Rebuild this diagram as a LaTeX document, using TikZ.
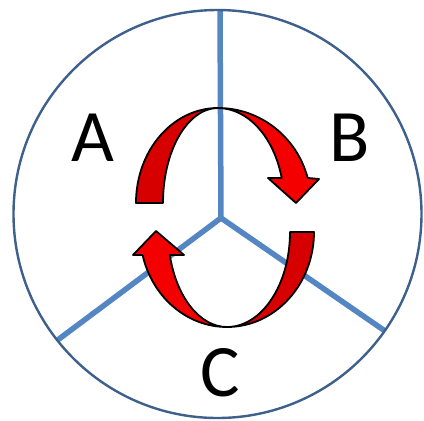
\documentclass[tikz,border=0pt]{standalone}
\usepackage{fontspec}
\setmainfont{Carlito}
\definecolor{spokeblue}{RGB}{84,134,196}
\definecolor{rimblue}{RGB}{62,96,140}
\definecolor{arrowred}{RGB}{245,0,0}
\definecolor{arrowdark}{RGB}{215,0,0}
\begin{document}
\begin{tikzpicture}[x=1pt,y=-1pt,
  spoke/.style={draw=spokeblue, line width=5.5pt},
  rim/.style={draw=rimblue, line width=2.4pt},
  front/.style={fill=arrowred, draw=black, line width=1.8pt, line join=round},
  back/.style={fill=arrowdark, draw=black, line width=1.8pt, line join=round},
  lbl/.style={font=\fontsize{74}{74}\selectfont, inner sep=0pt, anchor=base}]
\useasboundingbox (0,0) rectangle (424,421);
\fill[white] (0,0) rectangle (424,421);
% spokes
\coordinate (hub) at (221,218);
\coordinate (top) at (220,11);
\coordinate (ll) at (57,340.5);
\coordinate (lr) at (385,331);
\draw[spoke] (ll) -- (hub) -- (lr);
\draw[spoke] (hub) -- (top);
% rim
\coordinate (ctr) at (217.5,214);
\draw[rim] (ctr) circle[radius=204];
% upper arrow (curved down)
\path[back] (136,203) arc[start angle=180,end angle=270,x radius=82,y radius=95]
  arc[start angle=270,end angle=180,x radius=55,y radius=95] -- cycle;
\path[front] (218,108) arc[start angle=270,end angle=344.7,x radius=93,y radius=95]
  -- (319,179) -- (296,203) -- (268,178) -- (281.7,178)
  arc[start angle=344.7,end angle=270,x radius=66,y radius=95] -- cycle;
% lower arrow (curved up)
\path[back] (314,232) arc[start angle=0,end angle=90,x radius=87,y radius=95]
  arc[start angle=90,end angle=0,x radius=63,y radius=95] -- cycle;
\path[front] (227,327) arc[start angle=90,end angle=166,x radius=87,y radius=95]
  -- (133,255) -- (156,231) -- (184,255) -- (169.8,255)
  arc[start angle=166,end angle=90,x radius=59,y radius=95] -- cycle;
% labels
\node[lbl] (A) at (93,161) {A};
\node[lbl] (B) at (350,161) {B};
\node[lbl] (C) at (220,396) {C};
\end{tikzpicture}
\end{document}
